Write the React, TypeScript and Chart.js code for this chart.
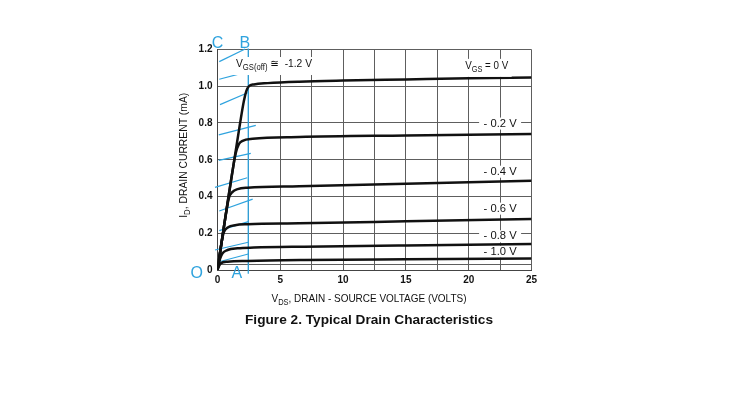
import React, { useEffect, useRef } from 'react';
import { Chart, registerables } from 'chart.js';

Chart.register(...registerables);

// ---------- data (VDS in volts, ID in mA) ----------
const vgs0X = [0, 0.5, 1.2, 1.8, 2.1, 2.3, 2.5, 2.9, 4, 6.5, 10, 15, 20, 25];
const vgs0Y = [0, 0.23, 0.54, 0.8, 0.92, 0.975, 1.0, 1.01, 1.017, 1.025, 1.031, 1.037, 1.043, 1.048];

const vgsM02X = [0, 0.5, 1.2, 1.45, 1.7, 2.0, 2.8, 6.5, 15, 25];
const vgsM02Y = [0, 0.23, 0.54, 0.635, 0.685, 0.703, 0.714, 0.724, 0.732, 0.74];

const vgsM04X = [0, 0.5, 0.9, 1.2, 1.6, 2.4, 6.5, 15, 25];
const vgsM04Y = [0, 0.23, 0.39, 0.425, 0.44, 0.448, 0.456, 0.47, 0.486];

const vgsM06X = [0, 0.3, 0.5, 0.85, 1.4, 2.4, 6.5, 15, 25];
const vgsM06Y = [0, 0.14, 0.205, 0.233, 0.244, 0.249, 0.254, 0.265, 0.278];

const vgsM08X = [0, 0.2, 0.4, 0.8, 1.6, 2.9, 6.9, 15, 25];
const vgsM08Y = [0, 0.06, 0.091, 0.109, 0.118, 0.122, 0.127, 0.134, 0.141];

const vgsM10X = [0, 0.1, 0.25, 0.8, 2.4, 6.9, 15, 25];
const vgsM10Y = [0, 0.018, 0.036, 0.045, 0.049, 0.054, 0.058, 0.062];

const curveLabels = ['- 0.2 V', '- 0.4 V', '- 0.6 V', '- 0.8 V', '- 1.0 V'];

// hand-drawn blue hatch lines (start/end in data units)
const hatchX0 = [0.14, 0.14, 0.2, 0.1, 0.1, -0.2, 0.14, 0.14, -0.2, 0.14];
const hatchY0 = [1.134, 1.038, 0.9, 0.735, 0.597, 0.45, 0.321, 0.214, 0.109, 0.045];
const hatchX1 = [2.2, 2.45, 2.4, 3.05, 2.65, 2.37, 2.8, 2.45, 2.45, 2.45];
const hatchY1 = [1.203, 1.08, 0.965, 0.787, 0.635, 0.502, 0.386, 0.263, 0.151, 0.087];
const markerVX = [2.45, 2.45];
const markerVY = [-0.02, 1.205];
const markerLetters = ['C', 'B', 'O', 'A'];
const markerLetterX = [0, 2.17, -1.66, 1.53];
const markerLetterY = [1.23, 1.23, -0.022, -0.022];

const xTickValues = [0, 5, 10, 15, 20, 25];
const xTickLabels = ['0', '5', '10', '15', '20', '25'];
const yTickValues = [0, 0.2, 0.4, 0.6, 0.8, 1.0, 1.2];
const yTickLabels = ['0', '0.2', '0.4', '0.6', '0.8', '1.0', '1.2'];
const yExtraGrid = [0.03];

// ---------- styling ----------
const BLUE = '#2fa3de';
const FONT = '"Liberation Sans", Arial, "DejaVu Sans", sans-serif';
const GRID = '#5e5e5e';

type Part = { t: string; sub?: boolean };

function richWidth(ctx: CanvasRenderingContext2D, parts: Part[], size: number, weight: string) {
  let w = 0;
  const ws = parts.map((p) => {
    ctx.font = `${weight} ${p.sub ? size * 0.75 : size}px ${FONT}`;
    const m = ctx.measureText(p.t).width;
    w += m;
    return m;
  });
  return { w, ws };
}

function drawRich(
  ctx: CanvasRenderingContext2D,
  parts: Part[],
  cx: number,
  cy: number,
  size: number,
  weight: string,
  color: string,
  targetW?: number,
  rotate?: boolean
) {
  ctx.save();
  const { w, ws } = richWidth(ctx, parts, size, weight);
  const sx = targetW ? targetW / w : 1;
  ctx.translate(cx, cy);
  if (rotate) ctx.rotate(-Math.PI / 2);
  ctx.scale(sx, 1);
  ctx.fillStyle = color;
  ctx.textBaseline = 'middle';
  ctx.textAlign = 'left';
  let x = -w / 2;
  parts.forEach((p, i) => {
    ctx.font = `${weight} ${p.sub ? size * 0.75 : size}px ${FONT}`;
    ctx.fillText(p.t, x, p.sub ? size * 0.36 : 0);
    x += ws[i];
  });
  ctx.restore();
}

function whiteBox(ctx: CanvasRenderingContext2D, cx: number, cy: number, w: number, h: number) {
  ctx.save();
  ctx.fillStyle = '#ffffff';
  ctx.fillRect(cx - w / 2, cy - h / 2, w, h);
  ctx.restore();
}

const curveLabelXv = 22.5;
const curveLabelYv = [0.797, 0.535, 0.334, 0.183, 0.1];

const annotPlugin = {
  id: 'annot',
  beforeDatasetsDraw(chart: any) {
    const ctx = chart.ctx as CanvasRenderingContext2D;
    const xs = chart.scales.x;
    const ys = chart.scales.y;
    curveLabels.forEach((_, i) => {
      whiteBox(ctx, xs.getPixelForValue(curveLabelXv), ys.getPixelForValue(curveLabelYv[i]), 42, 12);
    });
  },
  afterDatasetsDraw(chart: any) {
    const ctx = chart.ctx as CanvasRenderingContext2D;
    const xs = chart.scales.x;
    const ys = chart.scales.y;
    const a = chart.chartArea;

    // top labels
    const offX = xs.getPixelForValue(4.5);
    const offY = ys.getPixelForValue(1.121);
    whiteBox(ctx, offX, offY + 2, 84, 18);
    drawRich(
      ctx,
      [{ t: 'V' }, { t: 'GS(off)', sub: true }, { t: ' \u2245  -1.2 V' }],
      offX,
      offY,
      11,
      'normal',
      '#111',
      76
    );
    const zX = xs.getPixelForValue(21.43);
    const zY = ys.getPixelForValue(1.111);
    whiteBox(ctx, zX, zY + 2, 50, 18);
    drawRich(ctx, [{ t: 'V' }, { t: 'GS', sub: true }, { t: ' = 0 V' }], zX, zY, 11, 'normal', '#111', 43);

    // curve labels
    curveLabels.forEach((t, i) => {
      drawRich(
        ctx,
        [{ t }],
        xs.getPixelForValue(curveLabelXv),
        ys.getPixelForValue(curveLabelYv[i]),
        11,
        'normal',
        '#111',
        33
      );
    });

    // axis titles
    const midX = (a.left + a.right) / 2;
    drawRich(
      ctx,
      [{ t: 'V' }, { t: 'DS', sub: true }, { t: ', DRAIN - SOURCE VOLTAGE (VOLTS)' }],
      midX - 5.5,
      a.bottom + 28.5,
      11.5,
      'normal',
      '#111',
      195
    );
    drawRich(
      ctx,
      [{ t: 'I' }, { t: 'D', sub: true }, { t: ', DRAIN CURRENT (mA)' }],
      a.left - 33.5,
      (a.top + a.bottom) / 2 - 4.5,
      11,
      'normal',
      '#111',
      125,
      true
    );
    drawRich(ctx, [{ t: 'Figure 2. Typical Drain Characteristics' }], midX - 5.5, a.bottom + 50, 13, 'bold', '#111', 248);

    // blue marker letters
    markerLetters.forEach((t, i) => {
      drawRich(
        ctx,
        [{ t }],
        xs.getPixelForValue(markerLetterX[i]),
        ys.getPixelForValue(markerLetterY[i]),
        16,
        'normal',
        BLUE
      );
    });
  },
};

export default function App() {
  const ref = useRef<HTMLCanvasElement>(null);

  useEffect(() => {
    const canvas = ref.current;
    if (!canvas) return;

    const curves = [
      [vgs0X, vgs0Y],
      [vgsM02X, vgsM02Y],
      [vgsM04X, vgsM04Y],
      [vgsM06X, vgsM06Y],
      [vgsM08X, vgsM08Y],
      [vgsM10X, vgsM10Y],
    ];
    const curveDatasets = curves.map(([xs, ys], i) => ({
      label: i === 0 ? '0 V' : curveLabels[i - 1],
      data: xs.map((x, k) => ({ x, y: ys[k] })),
      showLine: true,
      borderColor: '#111',
      borderWidth: 2.5,
      pointRadius: 0,
      cubicInterpolationMode: 'monotone' as const,
      order: 1,
    }));
    const hatchDatasets = hatchX0.map((x0, i) => ({
      label: 'hatch' + i,
      data: [
        { x: x0, y: hatchY0[i] },
        { x: hatchX1[i], y: hatchY1[i] },
      ],
      showLine: true,
      borderColor: BLUE,
      borderWidth: 1.2,
      pointRadius: 0,
      tension: 0,
      clip: false as any,
      order: 2,
    }));
    const vDataset = {
      label: 'AB',
      data: markerVX.map((x, k) => ({ x, y: markerVY[k] })),
      showLine: true,
      borderColor: BLUE,
      borderWidth: 1.3,
      pointRadius: 0,
      tension: 0,
      clip: false as any,
      order: 2,
    };

    const chart = new Chart(canvas, {
      type: 'scatter',
      data: { datasets: [...hatchDatasets, vDataset, ...curveDatasets] as any },
      options: {
        responsive: false,
        animation: false,
        devicePixelRatio: 1,
        layout: { padding: { left: 177.5, right: 220.5, top: 49.5, bottom: 107 } },
        plugins: { legend: { display: false }, tooltip: { enabled: false } },
        scales: {
          x: {
            type: 'linear',
            min: 0,
            max: 25,
            afterBuildTicks: (scale: any) => {
              const t: number[] = [];
              for (let i = 0; i <= 10; i++) t.push(i * 2.5);
              scale.ticks = t.map((v) => ({ value: v }));
            },
            afterFit: (scale: any) => {
              scale.height = 20;
            },
            ticks: {
              padding: 4,
              maxRotation: 0,
              autoSkip: false,
              color: '#111',
              font: { family: FONT, size: 10, weight: 'bold' },
              callback: (value: any) => {
                const i = xTickValues.indexOf(Number(value));
                return i >= 0 ? xTickLabels[i] : '';
              },
            },
            grid: { color: GRID, lineWidth: 1, drawTicks: false },
            border: { display: true, color: '#444', width: 1 },
          },
          y: {
            type: 'linear',
            min: 0,
            max: 1.2,
            afterBuildTicks: (scale: any) => {
              scale.ticks = [...yTickValues, ...yExtraGrid]
                .sort((p, q) => p - q)
                .map((v) => ({ value: v }));
            },
            afterFit: (scale: any) => {
              scale.width = 40;
            },
            ticks: {
              padding: 5,
              autoSkip: false,
              color: '#111',
              font: { family: FONT, size: 10, weight: 'bold' },
              callback: (value: any) => {
                const i = yTickValues.findIndex((v) => Math.abs(v - Number(value)) < 1e-6);
                return i >= 0 ? yTickLabels[i] : '';
              },
            },
            grid: { color: GRID, lineWidth: 1, drawTicks: false },
            border: { display: true, color: '#444', width: 1 },
          },
        },
      },
      plugins: [annotPlugin as any],
    });

    return () => chart.destroy();
  }, []);

  return (
    <div style={{ position: 'fixed', left: 0, top: 0, width: 752, height: 397, background: '#fff' }}>
      <canvas ref={ref} width={752} height={397} style={{ display: 'block', width: 752, height: 397 }} />
    </div>
  );
}
